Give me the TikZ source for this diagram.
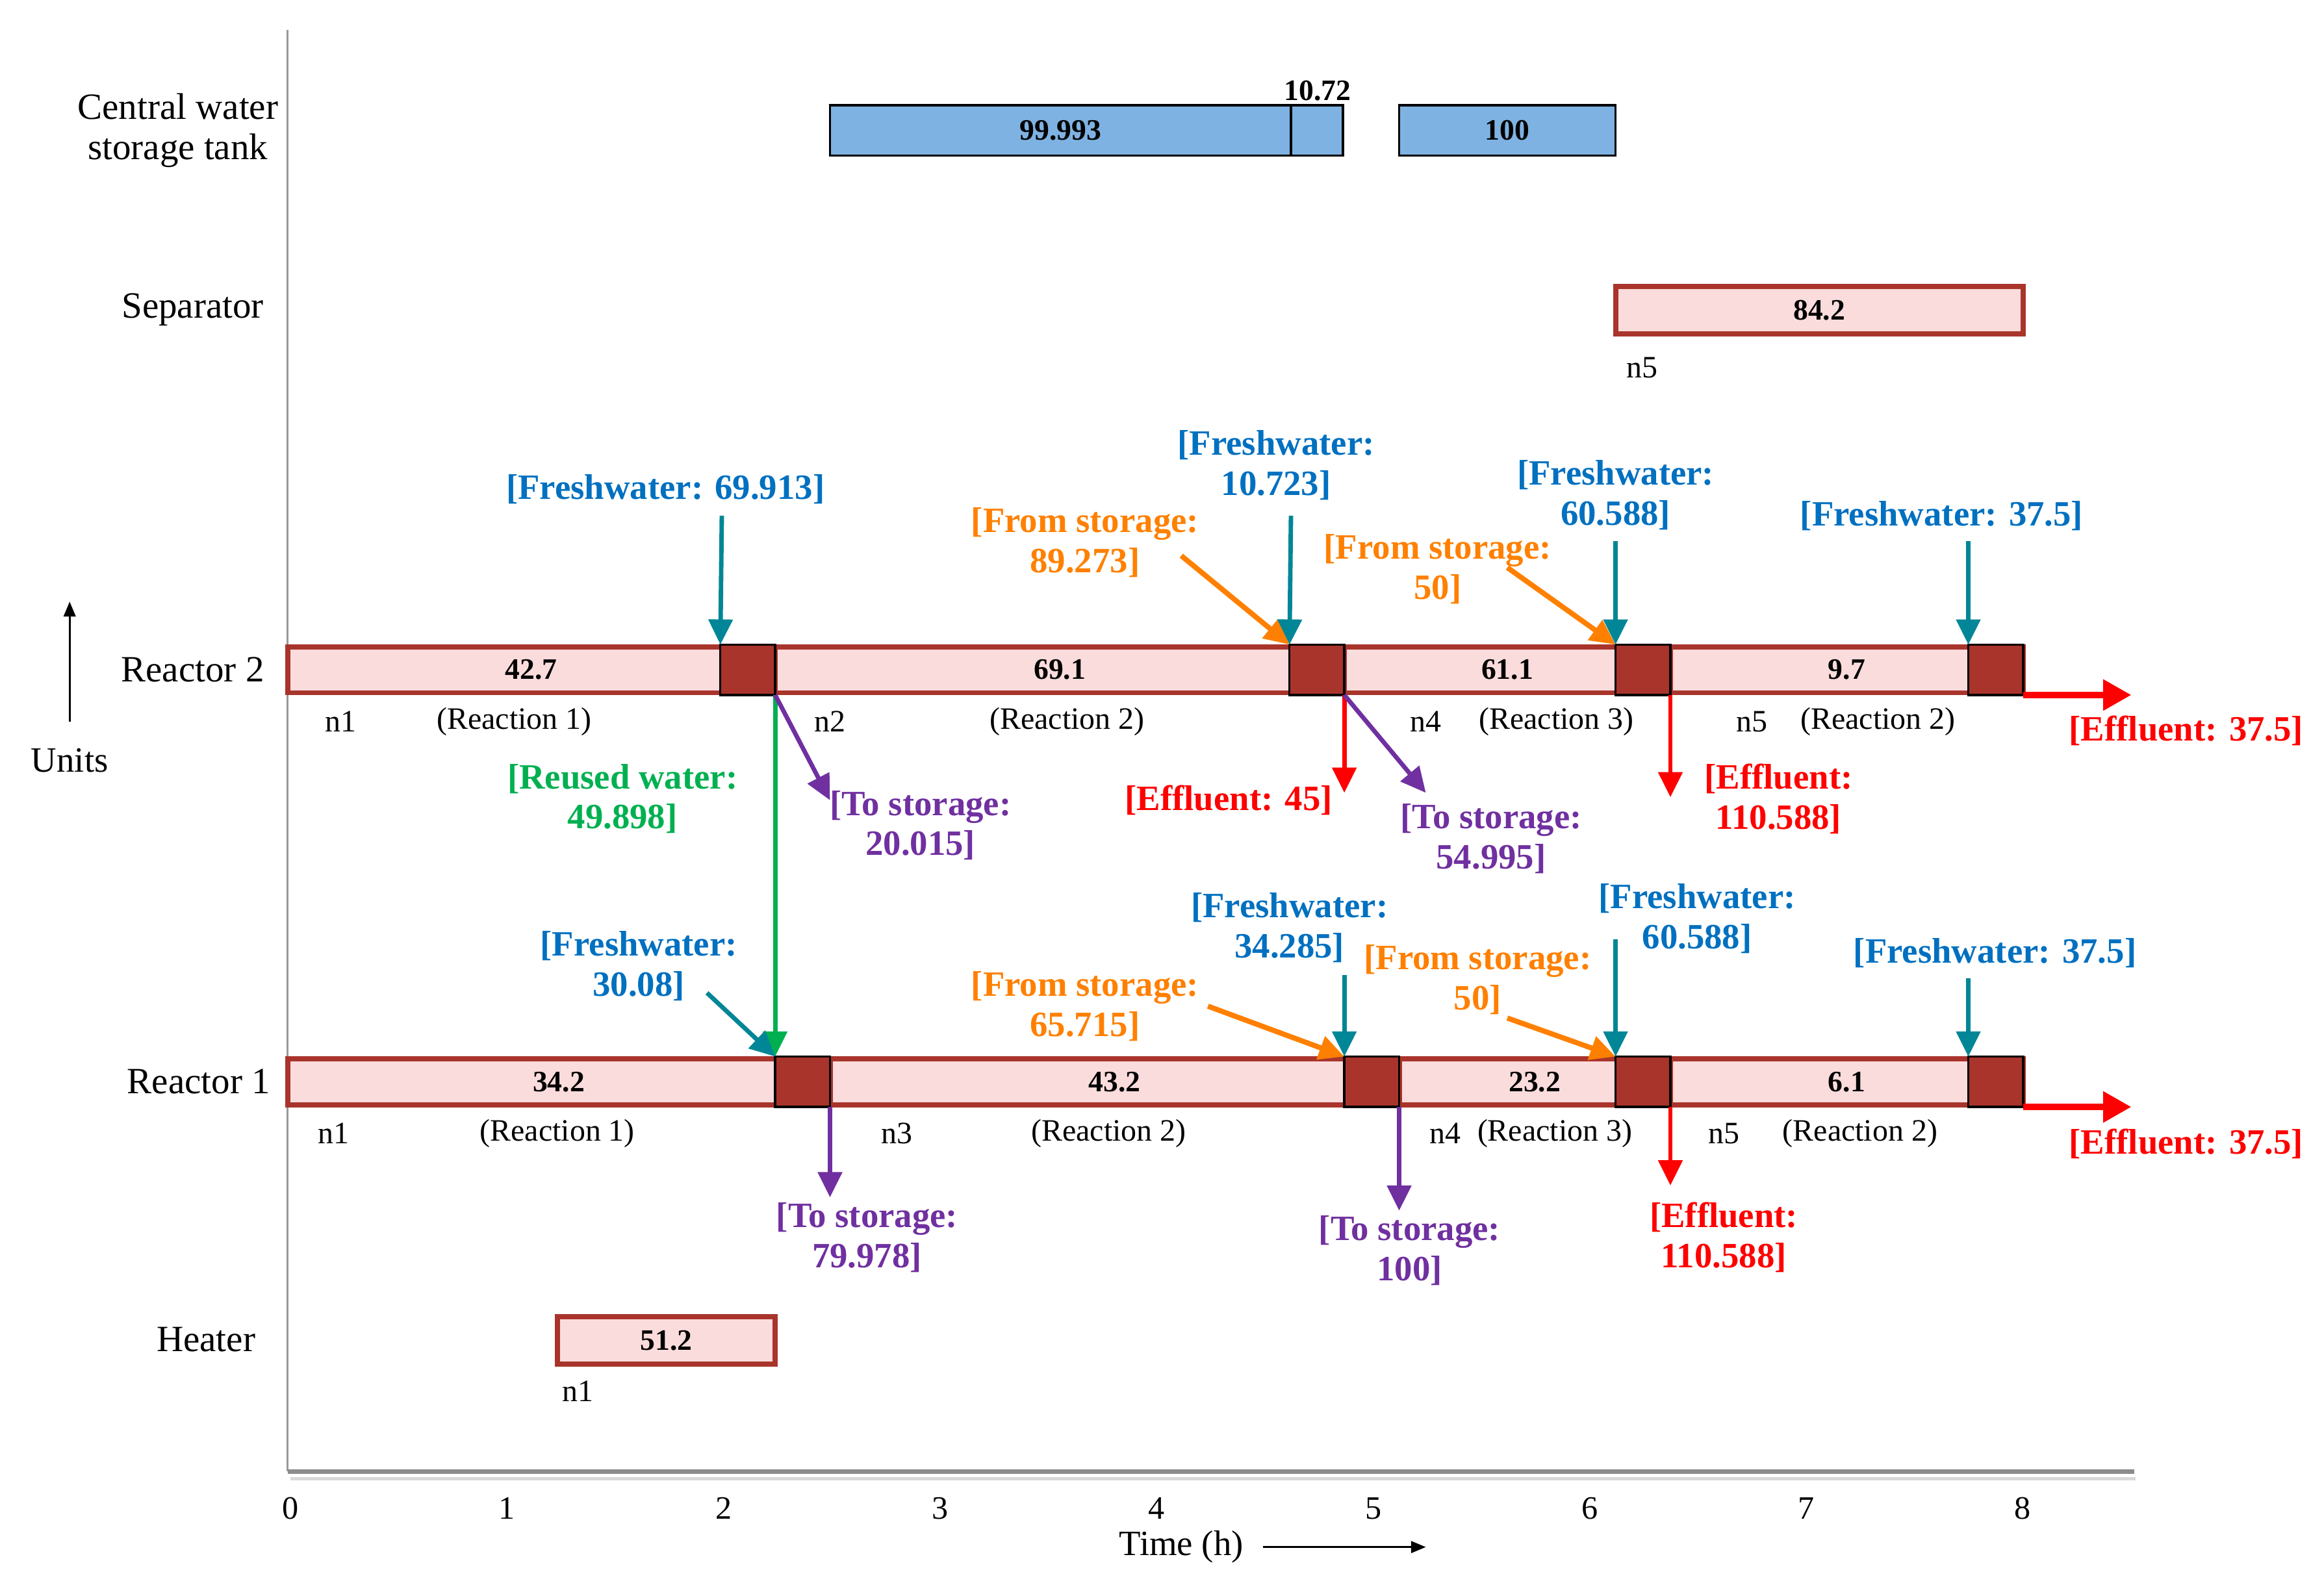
\documentclass[tikz,border=0pt]{standalone}
\usepackage{fontspec}
\setmainfont{Liberation Serif}
\usetikzlibrary{arrows.meta}

\definecolor{brick}{RGB}{169,52,44}
\definecolor{rosefill}{RGB}{249,220,219}
\definecolor{tankblue}{RGB}{126,178,226}
\definecolor{fwtext}{RGB}{0,112,192}
\definecolor{fwarrow}{RGB}{0,134,150}
\definecolor{fsorange}{RGB}{255,128,0}
\definecolor{tspurple}{RGB}{112,48,160}
\definecolor{rwgreen}{RGB}{0,176,80}
\definecolor{efred}{RGB}{255,0,0}

\begin{document}
\begin{tikzpicture}[x=1pt, y=-1pt,
                    every node/.style={inner sep=0pt, outer sep=0pt},
                    unitname/.style={font=\fontsize{25}{27}\selectfont, align=center},
                    tag/.style={font=\fontsize{21}{24}\selectfont},
                    seg/.style={rectangle, draw=brick, line width=3.5pt, fill=rosefill, minimum height=31pt,
                                anchor=west, font=\fontsize{20}{24}\selectfont\bfseries},
                    hold/.style={rectangle, draw=black, line width=1.5pt, fill=brick, minimum width=37pt,
                                 minimum height=34pt, anchor=east},
                    tank/.style={rectangle, draw=black, line width=1.5pt, fill=tankblue, minimum height=34pt,
                                 anchor=west, font=\fontsize{20}{24}\selectfont\bfseries},
                    flowtext/.style={font=\fontsize{24}{27}\selectfont\bfseries, align=center},
                    flow/.style={line width=3pt, -{Triangle[length=17pt,width=16pt]}},
                    fresh/.style={flow, draw=fwarrow},
                    fromst/.style={flow, draw=fsorange, line width=3.5pt},
                    tost/.style={flow, draw=tspurple},
                    efl/.style={flow, draw=efred},
                    reuse/.style={flow, draw=rwgreen},
                    outflow/.style={draw=efred, line width=4.5pt, -{Triangle[length=19pt,width=20pt]}},
                    axisline/.style={draw=black!40, line width=1.2pt}]
    \useasboundingbox (0,0) rectangle (1568,1076.6);

    % axes
    \coordinate (top) at (194,20);
    \coordinate (orig) at (194,993);
    \coordinate (right) at (1440,993);
    \draw[axisline] (top) -- (orig);
    \draw[draw=black!45, line width=3pt] (orig) -- (right);
    \draw[draw=black!15, line width=2pt] (196,998) -- (1441,998);
    \foreach \t in {0,...,8}
        \node[font=\fontsize{22}{24}\selectfont] (tick\t) at ({196+146.1*\t},1018) {\t};
    \node[font=\fontsize{24}{27}\selectfont] (timelbl) at (797,1044) {Time (h)};
    \coordinate (tfrom) at (852,1044);
    \coordinate (tto) at (962,1044);
    \draw[line width=1.3pt, -{Triangle[length=10pt,width=8pt]}] (tfrom) -- (tto);
    \node[font=\fontsize{24}{27}\selectfont] (unitlbl) at (47,513) {Units};
    \coordinate (ufrom) at (47,487);
    \coordinate (uto) at (47,406);
    \draw[line width=1.3pt, -{Triangle[length=10pt,width=8pt]}] (ufrom) -- (uto);

    % unit names
    \node[unitname] (n-tank) at (120,88) {Central water\\storage tank};
    \node[unitname] (n-sep) at (130,209) {Separator};
    \node[unitname] (n-r2) at (130,452) {Reactor 2};
    \node[unitname] (n-r1) at (134,730) {Reactor 1};
    \node[unitname] (n-heat) at (139,904) {Heater};

    % storage tank
    \node[tank, minimum width=311pt] (t1) at (560,88) {99.993};
    \node[tank, minimum width=35pt] (t2) at (t1.east) {};
    \node[tank, minimum width=146pt] (t3) at (944,88) {100};
    \node[font=\fontsize{20}{24}\selectfont\bfseries] (t2lbl) at (889,61) {10.72};

    % separator
    \node[seg, minimum width=275pt, minimum height=32pt] (sep) at (1090,209.5) {84.2};
    \node[tag] (sepn5) at (1108,248) {n5};

    % reactor 2
    \node[seg, minimum width=329pt] (r2a) at (194,452) {42.7};
    \node[seg, minimum width=384pt] (r2b) at (r2a.east) {69.1};
    \node[seg, minimum width=220pt] (r2c) at (r2b.east) {61.1};
    \node[seg, minimum width=238pt] (r2d) at (r2c.east) {9.7};
    \node[hold] (r2k1) at (r2a.east) {};
    \node[hold] (r2k2) at (r2b.east) {};
    \node[hold] (r2k3) at (r2c.east) {};
    \node[hold] (r2k4) at (r2d.east) {};
    \node[tag] (r2n1) at (230,487) {n1};
    \node[tag] (r2x1) at (347,487) {(Reaction 1)};
    \node[tag] (r2n2) at (560,487) {n2};
    \node[tag] (r2x2) at (720,487) {(Reaction 2)};
    \node[tag] (r2n4) at (962,487) {n4};
    \node[tag] (r2x3) at (1050,487) {(Reaction 3)};
    \node[tag] (r2n5) at (1182,487) {n5};
    \node[tag] (r2x4) at (1267,487) {(Reaction 2)};

    % reactor 1
    \node[seg, minimum width=366pt] (r1a) at (194,730) {34.2};
    \node[seg, minimum width=384pt] (r1b) at (r1a.east) {43.2};
    \node[seg, minimum width=183pt] (r1c) at (r1b.east) {23.2};
    \node[seg, minimum width=238pt] (r1d) at (r1c.east) {6.1};
    \node[hold] (r1k1) at (r1a.east) {};
    \node[hold] (r1k2) at (r1b.east) {};
    \node[hold] (r1k3) at (r1c.east) {};
    \node[hold] (r1k4) at (r1d.east) {};
    \node[tag] (r1n1) at (225,765) {n1};
    \node[tag] (r1x1) at (376,765) {(Reaction 1)};
    \node[tag] (r1n3) at (605,765) {n3};
    \node[tag] (r1x2) at (748,765) {(Reaction 2)};
    \node[tag] (r1n4) at (975,765) {n4};
    \node[tag] (r1x3) at (1049,765) {(Reaction 3)};
    \node[tag] (r1n5) at (1163,765) {n5};
    \node[tag] (r1x4) at (1255,765) {(Reaction 2)};

    % heater
    \node[seg, minimum width=147pt, minimum height=32pt] (heat) at (376,904.5) {51.2};
    \node[tag] (heatn1) at (390,939) {n1};

    % streams into and out of reactor 2
    \node[flowtext, text=fwtext] (fw69) at (449,330) {[Freshwater: 69.913]};
    \node[flowtext, text=fsorange] (fs89) at (732,366) {[From storage:\\89.273]};
    \node[flowtext, text=fwtext] (fw10) at (861,314) {[Freshwater:\\10.723]};
    \node[flowtext, text=fsorange] (fs50a) at (970,384) {[From storage:\\50]};
    \node[flowtext, text=fwtext] (fw60a) at (1090,334) {[Freshwater:\\60.588]};
    \node[flowtext, text=fwtext] (fw37a) at (1310,348) {[Freshwater: 37.5]};
    \node[flowtext, text=efred] (ef37a) at (1475,493) {[Effluent: 37.5]};
    \node[flowtext, text=rwgreen] (rw50) at (420,539) {[Reused water:\\49.898]};
    \node[flowtext, text=tspurple] (ts20) at (621,557) {[To storage:\\20.015]};
    \node[flowtext, text=efred] (ef45) at (829,540) {[Effluent: 45]};
    \node[flowtext, text=tspurple] (ts55) at (1006,566) {[To storage:\\54.995]};
    \node[flowtext, text=efred] (ef110a) at (1200,539) {[Effluent:\\110.588]};

    \coordinate (fw69s) at (487,348);
    \coordinate (fs89s) at (797,375);
    \coordinate (fw10s) at (871,348);
    \coordinate (fs50as) at (1017,383);
    \coordinate (fw60as) at (1090,365);
    \coordinate (fw37as) at (1328,365);
    \coordinate (ef37ae) at (1438,469);
    \coordinate (ts20e) at (560,540);
    \coordinate (ef45e) at (907,535);
    \coordinate (ts55e) at (962,535);
    \coordinate (ef110ae) at (1127,538);

    \draw[fresh] (fw69s) -- (r2k1.north west);
    \draw[fromst] (fs89s) -- (r2k2.north west);
    \draw[fresh] (fw10s) -- (r2k2.north west);
    \draw[fromst] (fs50as) -- (r2k3.north west);
    \draw[fresh] (fw60as) -- (r2k3.north west);
    \draw[fresh] (fw37as) -- (r2k4.north west);
    \draw[outflow] (r2k4.south east) -- (ef37ae);
    \draw[reuse] (r2k1.south east) -- (r1k1.north west);
    \draw[tost] (r2k1.south east) -- (ts20e);
    \draw[efl] (r2k2.south east) -- (ef45e);
    \draw[tost] (r2k2.south east) -- (ts55e);
    \draw[efl] (r2k3.south east) -- (ef110ae);

    % streams into and out of reactor 1
    \node[flowtext, text=fwtext] (fw30) at (431,652) {[Freshwater:\\30.08]};
    \node[flowtext, text=fsorange] (fs65) at (732,679) {[From storage:\\65.715]};
    \node[flowtext, text=fwtext] (fw34) at (870,626) {[Freshwater:\\34.285]};
    \node[flowtext, text=fsorange] (fs50b) at (997,661) {[From storage:\\50]};
    \node[flowtext, text=fwtext] (fw60b) at (1145,620) {[Freshwater:\\60.588]};
    \node[flowtext, text=fwtext] (fw37b) at (1346,643) {[Freshwater: 37.5]};
    \node[flowtext, text=efred] (ef37b) at (1475,772) {[Effluent: 37.5]};
    \node[flowtext, text=tspurple] (ts80) at (585,835) {[To storage:\\79.978]};
    \node[flowtext, text=tspurple] (ts100) at (951,844) {[To storage:\\100]};
    \node[flowtext, text=efred] (ef110b) at (1163,835) {[Effluent:\\110.588]};

    \coordinate (fw30s) at (477,670);
    \coordinate (fs65s) at (815,679);
    \coordinate (fw34s) at (907,658);
    \coordinate (fs50bs) at (1017,687);
    \coordinate (fw60bs) at (1090,634);
    \coordinate (fw37bs) at (1328,660);
    \coordinate (ef37be) at (1438,747);
    \coordinate (ts80e) at (560,808);
    \coordinate (ts100e) at (944,817);
    \coordinate (ef110be) at (1127,800);

    \draw[fresh] (fw30s) -- (r1k1.north west);
    \draw[fromst] (fs65s) -- (r1k2.north west);
    \draw[fresh] (fw34s) -- (r1k2.north west);
    \draw[fromst] (fs50bs) -- (r1k3.north west);
    \draw[fresh] (fw60bs) -- (r1k3.north west);
    \draw[fresh] (fw37bs) -- (r1k4.north west);
    \draw[outflow] (r1k4.south east) -- (ef37be);
    \draw[tost] (r1k1.south east) -- (ts80e);
    \draw[tost] (r1k2.south east) -- (ts100e);
    \draw[efl] (r1k3.south east) -- (ef110be);
\end{tikzpicture}
\end{document}
